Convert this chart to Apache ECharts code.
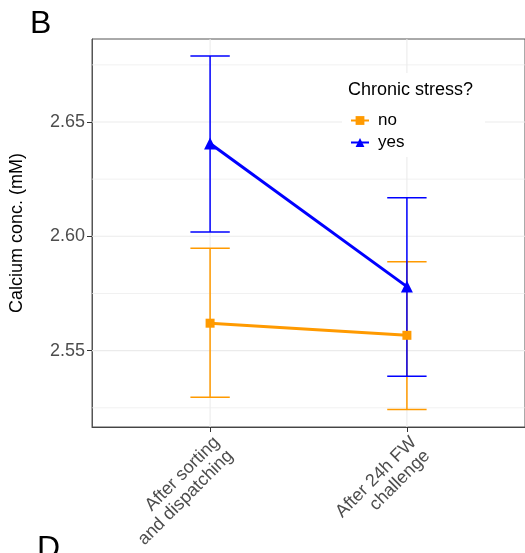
<!DOCTYPE html>
<html>
<head>
<meta charset="utf-8">
<script src="https://cdn.jsdelivr.net/npm/echarts@6/dist/echarts.min.js"></script>
<style>
  html, body { margin: 0; padding: 0; background: #fff; }
  #chart { width: 525px; height: 553px; }
</style>
</head>
<body>
<div id="chart"></div>
<script>
const categories = ['After sorting\nand dispatching', 'After 24h FW\nchallenge'];
const groups = ['no', 'yes'];
const noMean = [2.5620, 2.5567];
const noLow = [2.5296, 2.5242];
const noHigh = [2.5948, 2.5889];
const yesMean = [2.6406, 2.5780];
const yesLow = [2.6019, 2.5388];
const yesHigh = [2.6789, 2.6169];
const yTicks = [2.55, 2.60, 2.65];
const yMinor = [2.525, 2.575, 2.625, 2.675];

const FONT = '"Liberation Sans", Arial, sans-serif';
const ORANGE = '#ff9a00';
const BLUE = '#0000ff';

const fillChart = () => {
  const dom = document.getElementById('chart');
  const myChart = echarts.init(dom, null, { renderer: 'canvas' });

  const xPos = categories.map((c, i) => i + 1);

  const errorSeries = (name, low, high, color) => ({
    name: name + '-err',
    type: 'custom',
    silent: true,
    z: 3,
    data: xPos.map((x, i) => [x, low[i], high[i]]),
    renderItem(params, api) {
      const x = api.value(0);
      const lo = api.coord([x, api.value(1)]);
      const hi = api.coord([x, api.value(2)]);
      const l = api.coord([x - 0.1, api.value(2)]);
      const r = api.coord([x + 0.1, api.value(2)]);
      const half = (r[0] - l[0]) / 2;
      const style = { stroke: color, lineWidth: 1.5, fill: null };
      return {
        type: 'group',
        children: [
          { type: 'line', shape: { x1: lo[0], y1: lo[1], x2: hi[0], y2: hi[1] }, style },
          { type: 'line', shape: { x1: hi[0] - half, y1: hi[1], x2: hi[0] + half, y2: hi[1] }, style },
          { type: 'line', shape: { x1: lo[0] - half, y1: lo[1], x2: lo[0] + half, y2: lo[1] }, style }
        ]
      };
    }
  });

  // panel grid lines: [direction, value, width]
  const gridData = [
    ...yTicks.map(v => ['h', v, 1.1]),
    ...yMinor.map(v => ['h', v, 0.7]),
    ...xPos.map(v => ['v', v, 1.1])
  ];

  const option = {
    animation: false,
    textStyle: { fontFamily: FONT },
    grid: {
      left: 92, right: -3, top: 39, bottom: 126,
      show: true, borderColor: '#555', borderWidth: 1, backgroundColor: '#fff'
    },
    title: {
      text: 'Chronic stress?',
      left: 348, top: 81, padding: 0, z: 20,
      textStyle: { fontFamily: FONT, fontSize: 18, fontWeight: 'normal', color: '#000' }
    },
    legend: {
      data: groups,
      orient: 'vertical',
      left: 350, top: 112,
      padding: 0,
      itemGap: 5,
      itemWidth: 18, itemHeight: 11,
      z: 20,
      textStyle: { fontFamily: FONT, fontSize: 17, color: '#000', padding: [0, 0, 0, 4] }
    },
    graphic: [
      { type: 'rect', z: 10, shape: { x: 342, y: 73, width: 143, height: 84 }, style: { fill: '#fff' } },
      { type: 'text', left: 30, top: 8, style: { text: 'B', fontFamily: FONT, fontSize: 32, fill: '#000' } },
      { type: 'text', left: 37, top: 533, style: { text: 'D', fontFamily: FONT, fontSize: 32, fill: '#000' } }
    ],
    xAxis: {
      type: 'value',
      min: 0.4, max: 2.6,
      axisLine: { show: true, onZero: false, lineStyle: { color: '#444', width: 1 } },
      axisTick: { show: true, customValues: xPos, length: 5, lineStyle: { color: '#333' } },
      axisLabel: {
        customValues: xPos,
        rotate: 45,
        margin: 6,
        align: 'right',
        verticalAlign: 'top',
        fontSize: 18,
        lineHeight: 19,
        color: '#4d4d4d',
        fontFamily: FONT,
        formatter: v => categories[Math.round(v) - 1] || ''
      },
      splitLine: { show: false }
    },
    yAxis: {
      type: 'value',
      min: 2.5166, max: 2.6863,
      name: 'Calcium conc. (mM)',
      nameLocation: 'middle',
      nameGap: 66,
      nameTextStyle: { fontFamily: FONT, fontSize: 18, color: '#000' },
      axisLine: { show: true, lineStyle: { color: '#555', width: 1 } },
      axisTick: { show: true, customValues: yTicks, length: 5, lineStyle: { color: '#333' } },
      axisLabel: {
        customValues: yTicks,
        margin: 7,
        fontSize: 18,
        color: '#4d4d4d',
        fontFamily: FONT,
        formatter: v => v.toFixed(2)
      },
      splitLine: { show: false }
    },
    series: [
      {
        name: 'grid',
        type: 'custom',
        z: 1,
        silent: true,
        data: gridData.map(d => [d[0] === 'v' ? d[1] : 1, d[0] === 'h' ? d[1] : 2.6, d[2], d[0] === 'h' ? 0 : 1]),
        renderItem(params, api) {
          const cs = params.coordSys;
          const isV = api.value(3) === 1;
          const p = api.coord([api.value(0), api.value(1)]);
          const shape = isV
            ? { x1: p[0], y1: cs.y, x2: p[0], y2: cs.y + cs.height }
            : { x1: cs.x, y1: p[1], x2: cs.x + cs.width, y2: p[1] };
          return { type: 'line', shape, style: { stroke: '#ebebeb', lineWidth: api.value(2) } };
        }
      },
      errorSeries('no', noLow, noHigh, ORANGE),
      errorSeries('yes', yesLow, yesHigh, BLUE),
      {
        name: 'no',
        type: 'line',
        z: 4,
        data: xPos.map((x, i) => [x, noMean[i]]),
        symbol: 'rect',
        symbolSize: 9,
        color: ORANGE,
        lineStyle: { color: ORANGE, width: 3 },
        itemStyle: { color: ORANGE }
      },
      {
        name: 'yes',
        type: 'line',
        z: 4,
        data: xPos.map((x, i) => [x, yesMean[i]]),
        symbol: 'triangle',
        symbolSize: 12,
        color: BLUE,
        lineStyle: { color: BLUE, width: 3 },
        itemStyle: { color: BLUE }
      }
    ]
  };

  myChart.setOption(option);
};

window.onload = function () {
  fillChart();
};
</script>
</body>
</html>
